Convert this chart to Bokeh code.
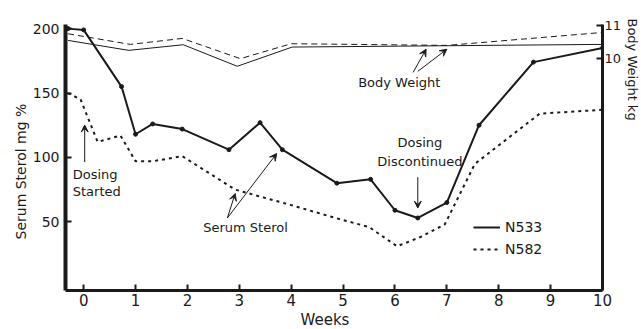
from bokeh.plotting import figure
from bokeh.models import (Range1d, LinearAxis, FixedTicker, Label, Arrow,
                          VeeHead, Legend, LegendItem, Title)
from bokeh.embed import file_html
from bokeh.resources import INLINE

# ---- data ----
week_ticks = [0, 1, 2, 3, 4, 5, 6, 7, 8, 9, 10]
sterol_ticks = [50, 100, 150, 200]
weight_ticks = [10, 11]

n533_weeks = [-0.3, 0.0, 0.73, 1.0, 1.33, 1.9, 2.8, 3.4, 3.83, 4.88, 5.53, 6.0, 6.44, 7.0, 7.62, 8.67, 10.0]
n533_sterol = [200, 199, 155, 118, 126, 122, 106, 127, 106, 80, 83, 59, 53, 65, 125, 174, 185]

n582_weeks = [-0.3, -0.06, 0.27, 0.71, 1.0, 1.33, 1.9, 2.92, 4.0, 4.94, 5.5, 6.04, 6.48, 6.96, 7.54, 8.79, 10.0]
n582_sterol = [150, 145, 112, 117, 97, 97, 101, 75, 63, 52, 46, 31, 38, 48, 95, 134, 137]

bw533_weeks = [-0.3, 0.87, 1.92, 2.96, 4.02, 10.0]
bw533_kg = [10.55, 10.25, 10.42, 9.77, 10.35, 10.43]

bw582_weeks = [-0.3, 0.9, 1.9, 3.02, 4.0, 7.0, 10.0]
bw582_kg = [10.75, 10.43, 10.61, 10.0, 10.45, 10.4, 10.79]

FONT = "DejaVu Sans"
INK = "#1a1a1a"

p = figure(width=641, height=329, output_backend="svg", toolbar_location=None,
           x_range=Range1d(-0.35, 10.0), y_range=Range1d(-3.3, 203.2),
           min_border_left=65, min_border_right=36, min_border_top=24,
           min_border_bottom=38, background_fill_color="white",
           border_fill_color="white")
p.outline_line_color = None
p.grid.visible = False
p.extra_y_ranges = {"bw": Range1d(3.01, 11.03)}

def style_axis(ax, size, standoff, width):
    ax.axis_line_width = width
    ax.axis_line_color = INK
    ax.major_tick_in = 6
    ax.major_tick_out = 0
    ax.major_tick_line_width = 2
    ax.major_tick_line_color = INK
    ax.minor_tick_line_color = None
    ax.major_label_text_font = FONT
    ax.major_label_text_font_size = size
    ax.major_label_text_color = INK
    ax.major_label_standoff = standoff

p.xaxis.ticker = FixedTicker(ticks=week_ticks)
p.yaxis.ticker = FixedTicker(ticks=sterol_ticks)
style_axis(p.xaxis[0], "15px", 3, 3)
style_axis(p.yaxis[0], "14px", 6, 4)

rax = LinearAxis(y_range_name="bw", ticker=FixedTicker(ticks=weight_ticks))
style_axis(rax, "13px", 2, 3)
p.add_layout(rax, "right")

# axis titles as side titles
def side_title(text, side, align, offset, size, standoff=1):
    p.add_layout(Title(text=text, align=align, offset=offset, standoff=standoff,
                       text_font=FONT, text_font_size=size,
                       text_font_style="normal", text_color=INK), side)

side_title("Serum Sterol mg %", "left", "left", 51, "14px")
side_title("Weeks", "below", "left", 235, "15px")
side_title("Body Weight kg", "right", "left", -6, "13px", standoff=0)

# body weight lines
p.line(bw533_weeks, bw533_kg, y_range_name="bw", line_color=INK, line_width=1)
p.line(bw582_weeks, bw582_kg, y_range_name="bw", line_color=INK, line_width=1,
       line_dash="6 4")

# serum sterol lines
r533 = p.line(n533_weeks, n533_sterol, line_color=INK, line_width=2)
p.scatter(n533_weeks, n533_sterol, size=4, color=INK)
r582 = p.line(n582_weeks, n582_sterol, line_color=INK, line_width=2,
              line_dash="3 4")

legend = Legend(items=[LegendItem(label="N533", renderers=[r533]),
                       LegendItem(label="N582", renderers=[r582])],
                location=(408, 32), padding=0, margin=0, spacing=4,
                glyph_width=27, glyph_height=18, label_height=18,
                label_standoff=5, border_line_color=None,
                background_fill_alpha=0, label_text_font=FONT,
                label_text_font_size="14px", label_text_color=INK)
p.add_layout(legend)

def txt(x, y, s, align="left", size="13px"):
    p.add_layout(Label(x=x, y=y, text=s, text_font=FONT, text_font_size=size,
                       text_color=INK, text_align=align,
                       text_baseline="middle"))

# annotations
txt(-0.21, 86.4, "Dosing")
txt(-0.21, 73.2, "Started")
txt(6.48, 111.8, "Dosing", align="center")
txt(6.48, 97.1, "Discontinued", align="center")
txt(3.12, 45.4, "Serum Sterol", align="center")
txt(5.29, 158.1, "Body Weight")

def arrow(x0, y0, x1, y1):
    p.add_layout(Arrow(end=VeeHead(size=7, line_color=INK, fill_color=INK,
                                   line_width=1),
                       x_start=x0, y_start=y0, x_end=x1, y_end=y1,
                       line_color=INK, line_width=1))

arrow(0.02, 96.4, 0.02, 125.1)
arrow(6.44, 84.7, 6.44, 60.7)
arrow(2.77, 53.0, 2.92, 72.0)
arrow(2.77, 53.0, 3.72, 103.0)
arrow(6.35, 166.0, 6.6, 184.0)
arrow(6.44, 166.8, 7.0, 184.0)

open("out.html", "w").write(file_html(p, INLINE))
